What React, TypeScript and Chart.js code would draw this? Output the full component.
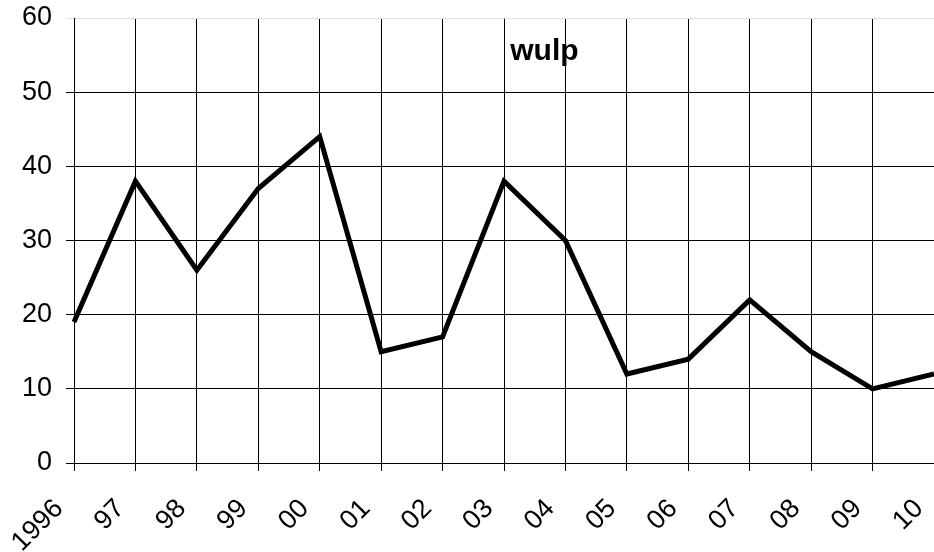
import React, { useEffect, useRef } from "react";
import { Chart, registerables } from "chart.js";

Chart.register(...registerables);

const categories = ["1996", "97", "98", "99", "00", "01", "02", "03", "04", "05", "06", "07", "08", "09", "10"];
const wulpValues = [19, 38, 26, 37, 44, 15, 17, 38, 30, 12, 14, 22, 15, 10, 12];
const yTicks = [0, 10, 20, 30, 40, 50, 60];
const chartTitle = "wulp";

const FONT = "'Liberation Sans', Arial, sans-serif";

const titlePlugin = {
  id: "innerTitle",
  afterDraw(chart: any) {
    const { ctx, chartArea } = chart;
    ctx.save();
    ctx.font = `bold 30px ${FONT}`;
    ctx.fillStyle = "#000";
    ctx.textAlign = "center";
    ctx.textBaseline = "alphabetic";
    const x = chartArea.left + (chartArea.right - chartArea.left) * 0.547;
    const y = chartArea.top + (chartArea.bottom - chartArea.top) * 0.094;
    ctx.fillText(chartTitle, x, y);
    ctx.restore();
  },
};

export default function App() {
  const ref = useRef<HTMLCanvasElement>(null);
  useEffect(() => {
    if (!ref.current) return;
    const chart = new Chart(ref.current, {
      type: "line",
      data: {
        labels: categories,
        datasets: [
          {
            data: wulpValues,
            borderColor: "#000",
            borderWidth: 5,
            borderJoinStyle: "miter",
            pointRadius: 0,
            tension: 0,
            fill: false,
          },
        ],
      },
      options: {
        animation: false,
        responsive: false,
        maintainAspectRatio: false,
        layout: { padding: { top: 18, right: 0, left: 0, bottom: 0 } },
        plugins: { legend: { display: false }, title: { display: false }, tooltip: { enabled: false } },
        scales: {
          x: {
            type: "category",
            offset: false,
            grid: { color: "#000", lineWidth: 1, tickLength: 8, drawTicks: true },
            border: { color: "#000", width: 1 },
            ticks: {
              color: "#000",
              font: { family: FONT, size: 27 },
              maxRotation: 45,
              minRotation: 45,
              autoSkip: false,
              padding: 22,
              labelOffset: -15,
            },
            afterFit(s: any) {
              s.height = 89;
              s.paddingLeft = 0;
              s.paddingRight = 0;
            },
          },
          y: {
            min: 0,
            max: 60,
            afterBuildTicks(s: any) {
              s.ticks = yTicks.map((v) => ({ value: v }));
            },
            grid: {
              color: (c: any) => (c.tick && c.tick.value === 60 ? "#e0e0e0" : "#000"),
              lineWidth: 1,
              tickLength: 8,
            },
            border: { color: "#000", width: 1 },
            ticks: {
              color: "#000",
              font: { family: FONT, size: 27 },
              padding: 14,
            },
            afterFit(s: any) {
              s.width = 74;
              s.paddingTop = 0;
              s.paddingBottom = 0;
            },
          },
        },
      },
      plugins: [titlePlugin],
    });
    return () => chart.destroy();
  }, []);
  return (
    <div style={{ position: "fixed", left: 0, top: 0, width: 934, height: 552, overflow: "hidden", background: "#fff" }}>
      <canvas ref={ref} width={934} height={552} style={{ width: 934, height: 552, display: "block" }} />
    </div>
  );
}
